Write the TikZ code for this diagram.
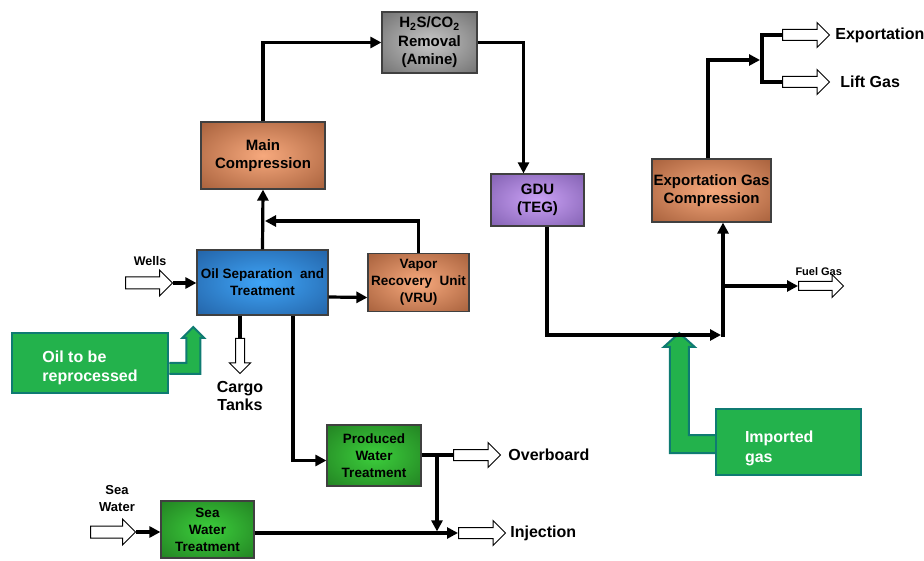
\documentclass[tikz,border=0pt]{standalone}
\usepackage{fontspec}
\setmainfont{Liberation Sans}
\usepackage{tikz}
\usetikzlibrary{shapes, arrows.meta}
\usetikzlibrary{positioning, backgrounds}

\definecolor{copperin}{HTML}{F7A97D}
\definecolor{copperout}{HTML}{8C4826}
\definecolor{bluein}{HTML}{3FA5F8}
\definecolor{blueout}{HTML}{1A4D8C}
\definecolor{greyin}{HTML}{C6C6C6}
\definecolor{greyout}{HTML}{555555}
\definecolor{violetin}{HTML}{CBA2F6}
\definecolor{violetout}{HTML}{6A4B9B}
\definecolor{greenin}{HTML}{3CCF3C}
\definecolor{greenout}{HTML}{1A681A}
\definecolor{calloutfill}{HTML}{23B24C}
\definecolor{calloutline}{HTML}{0F7B72}

\pgfdeclareradialshading{copperglow}{\pgfpoint{0bp}{0bp}}{color(0bp)=(copperin); color(48bp)=(copperout); color(50bp)=(copperout)}
\pgfdeclareradialshading{blueglow}{\pgfpoint{0bp}{0bp}}{color(0bp)=(bluein); color(48bp)=(blueout); color(50bp)=(blueout)}
\pgfdeclareradialshading{greyglow}{\pgfpoint{0bp}{0bp}}{color(0bp)=(greyin); color(48bp)=(greyout); color(50bp)=(greyout)}
\pgfdeclareradialshading{violetglow}{\pgfpoint{0bp}{0bp}}{color(0bp)=(violetin); color(48bp)=(violetout); color(50bp)=(violetout)}
\pgfdeclareradialshading{greenglow}{\pgfpoint{0bp}{0bp}}{color(0bp)=(greenin); color(48bp)=(greenout); color(50bp)=(greenout)}

\tikzstyle{unit} = [rectangle, draw = black!75, line width = 1.2pt, align = center,
  inner sep = 0pt, font = \bfseries\fontsize{15}{18.5}\selectfont]
\tikzstyle{unitsmall} = [unit, font = \bfseries\fontsize{13.5}{17}\selectfont]
\tikzstyle{hollow} = [
  single arrow, draw = black, fill = white, line width = 1pt,
  inner sep = 5.5pt, single arrow head extend = 7pt,
  minimum width = 25, minimum height = 47, anchor = tail
]
\tikzstyle{flow} = [line width = 3.2pt, -{Triangle[length = 11pt, width = 11pt]}]
\tikzstyle{pipe} = [line width = 3.2pt]
\tikzstyle{tag} = [inner sep = 0pt, font = \bfseries\fontsize{16}{18}\selectfont]
\tikzstyle{callout} = [
  rectangle, fill = calloutfill, draw = calloutline, line width = 2.5pt,
  text = white, align = left, text height = 41pt,
  font = \bfseries\fontsize{16}{19.5}\selectfont
]
\tikzstyle{calloutarrow} = [fill = calloutfill, draw = calloutline, line width = 2pt]

\begin{document}
\begin{tikzpicture}[x = 1pt, y = -1pt, node distance = 0]
      \useasboundingbox (0, 0) rectangle (924, 561);

      % process units
      \node [unitsmall, shading = blueglow, minimum width = 131, minimum height = 65]
        (sep) at (262.5, 282.5) {Oil Separation\ \ and\\Treatment};
      \node [unitsmall, shading = copperglow, minimum width = 101, minimum height = 58,
        right of = sep, xshift = 156] (vru) {Vapor\\Recovery\ \ Unit\\(VRU)};
      \node [unit, shading = copperglow, minimum width = 124, minimum height = 67,
        above of = sep, xshift = 0.5, yshift = 127] (maincomp) {Main\\Compression};
      \node [unit, shading = greyglow, minimum width = 95, minimum height = 61]
        (amine) at (429.5, 42.5) {H\textsubscript{2}S/CO\textsubscript{2}\\Removal\\(Amine)};
      \node [unit, shading = violetglow, minimum width = 93, minimum height = 52]
        (gdu) at (537.5, 200) {GDU\\(TEG)};
      \node [unit, shading = copperglow, minimum width = 119, minimum height = 63]
        (expcomp) at (711.5, 190.5) {Exportation Gas\\Compression};
      \node [unitsmall, shading = greenglow, minimum width = 94, minimum height = 61]
        (pwt) at (374, 455.5) {Produced\\Water\\Treatment};
      \node [unitsmall, shading = greenglow, minimum width = 93, minimum height = 57]
        (swt) at (207.5, 529.5) {Sea\\Water\\Treatment};

      % inlets and outlets
      \node [hollow] (wells) at (125, 283) {};
      \node [hollow, shape border rotate = 270, inner sep = 4pt,
        single arrow head extend = 6pt, minimum width = 20, minimum height = 35]
        (cargo) at (240, 338) {};
      \node [hollow, inner sep = 5pt, minimum width = 24] (overboard) at (453, 455) {};
      \node [hollow, inner sep = 5pt, minimum width = 24] (injection) at (458, 533) {};
      \node [hollow, minimum height = 45] (seawater) at (90, 532) {};
      \node [hollow, inner sep = 4pt, minimum width = 23, minimum height = 45]
        (fuel) at (798, 286) {};
      \node [hollow, inner sep = 5pt, minimum width = 24] (export) at (782, 35) {};
      \node [hollow, inner sep = 5pt, minimum width = 24] (lift) at (782, 82) {};

      \node [tag, font = \bfseries\fontsize{12.5}{15}\selectfont] (wellstag) at (150, 261) {Wells};
      \node [tag, align = center] (cargotag) at (240, 396) {Cargo\\Tanks};
      \node [tag, right = 7pt of overboard] (overboardtag) {Overboard};
      \node [tag, right = 4pt of injection] (injectiontag) {Injection};
      \node [tag, align = center, font = \bfseries\fontsize{13}{17}\selectfont]
        (seawatertag) at (117, 499) {Sea\\Water};
      \node [tag, above = 5pt of fuel, font = \bfseries\fontsize{11}{13}\selectfont]
        (fueltag) {Fuel Gas};
      \node [tag, right = 5pt of export] (exporttag) {Exportation};
      \node [tag, right = 10pt of lift] (lifttag) {Lift Gas};

      % callouts
      \node [callout, minimum width = 156, minimum height = 60]
        (reprocess) at (90, 363) {Oil to be\\reprocessed};
      \node [callout, minimum width = 145, minimum height = 66, text width = 87,
        inner xsep = 29, text height = 24pt] (imported) at (788.5, 442) {Imported\\gas};
      \begin{scope}[on background layer]
        \draw [calloutarrow] (reprocess.east) -- ++(17, 0) -- ++(0, -25) -- ++(-4, 0)
          -- ++(11, -11) -- ++(11, 11) -- ++(-4, 0) -- ++(0, 36) -- ++(-31, 0);
        \draw [calloutarrow] ([yshift = 7]imported.west) -- ++(-26, 0) -- ++(0, -88)
          -- ++(6, 0) -- ++(-15.5, -14) -- ++(-15.5, 14) -- ++(6, 0) -- ++(0, 106) -- ++(45, 0);
      \end{scope}

      % oil and gas lines
      \coordinate (vrureturn) at (265, 221);
      \coordinate (gasjoin) at (723, 335);
      \coordinate (fuelsplit) at (723, 286);
      \coordinate (exportsplit) at (762, 60);
      \coordinate (pwsplit) at (437, 455);

      \draw [flow] (wells.tip) -- (sep.west |- wells.tip);
      \draw [flow] (sep.north) -- (maincomp.south);
      \draw [flow] (vru.north) |- (vrureturn);
      \draw [flow] (maincomp.north) |- (amine.west);
      \draw [flow, line width = 2.4pt] (amine.east) -| ([xshift = -14]gdu.north);
      \draw [flow] ([xshift = 9.5]gdu.south) |- ([xshift = -2]gasjoin);
      \draw [flow] ([yshift = -1.6]gasjoin) -- (gasjoin |- expcomp.south);
      \draw [flow] (fuelsplit) -- (fuel.tail);
      \draw [flow] ([xshift = -3.5]expcomp.north) |- ([xshift = -2]exportsplit);
      \draw [pipe, line width = 4pt] (export.tail) -| (exportsplit) |- (lift.tail);
      \draw [flow] ([yshift = -14.5]sep.east) -- ([yshift = -15]vru.west);
      \draw [pipe] ([xshift = -22.5]sep.south) -- (cargo.tail);

      % water lines
      \draw [flow] ([xshift = 30.5]sep.south) |- ([yshift = -5]pwt.west);
      \draw [pipe] (pwt.east |- overboard.tail) -- (overboard.tail);
      \draw [flow] (pwsplit) -- ([yshift = 1.6]pwsplit |- injection.tail);
      \draw [flow] (swt.east |- injection.tail) -- (injection.tail);
      \draw [flow] (seawater.tip) -- (swt.west |- seawater.tip);
    \end{tikzpicture}
\end{document}
